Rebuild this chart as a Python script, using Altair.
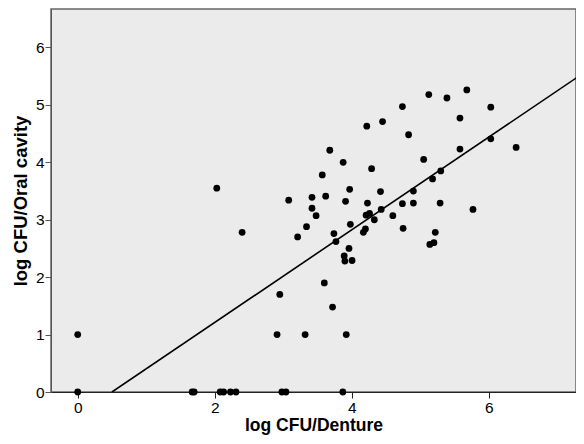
import altair as alt
import pandas as pd

denture = [0, 0, 1.67, 1.70, 2.08, 2.13, 2.23, 2.31, 2.98, 3.04, 3.87,
           2.03, 2.40, 2.91, 2.95, 3.08, 3.21, 3.32, 3.34, 3.42, 3.42, 3.48,
           3.57, 3.62, 3.60, 3.68, 3.72, 3.74, 3.77, 3.875, 3.89, 3.90, 3.91,
           3.92, 3.96, 3.97, 3.98, 4.005, 4.22, 4.17, 4.20, 4.23, 4.21, 4.26,
           4.29, 4.33, 4.42, 4.43, 4.45, 4.60, 4.74, 4.74, 4.75, 4.83, 4.90,
           4.90, 5.05, 5.125, 5.14, 5.20, 5.18, 5.22, 5.29, 5.30, 5.39, 5.58,
           5.58, 5.68, 5.77, 6.03, 6.03, 6.40]
oral = [1.0, 0, 0, 0, 0, 0, 0, 0, 0, 0, 0,
        3.55, 2.78, 1.0, 1.70, 3.34, 2.70, 1.0, 2.88, 3.39, 3.20, 3.07,
        3.78, 3.41, 1.90, 4.21, 1.48, 2.76, 2.62, 4.00, 2.37, 2.28, 3.32,
        1.0, 2.50, 3.53, 2.92, 2.29, 4.63, 2.78, 2.84, 3.29, 3.08, 3.11,
        3.89, 3.00, 3.49, 3.18, 4.71, 3.07, 4.97, 3.28, 2.85, 4.48, 3.50,
        3.29, 4.05, 5.18, 2.57, 2.60, 3.71, 2.78, 3.29, 3.85, 5.12, 4.77,
        4.23, 5.26, 3.18, 4.41, 4.96, 4.26]

fit_x = [0.5, 7.39]
fit_y = [0.0, 5.56]

pts = pd.DataFrame({"x": denture, "y": oral})
fit = pd.DataFrame({"x": fit_x, "y": fit_y})

xs = alt.Scale(domain=[-0.39, 7.274], nice=False, zero=False)
ys = alt.Scale(domain=[0, 6.67], nice=False, zero=False)

FONT = "Liberation Sans"
xaxis = alt.Axis(title="log CFU/Denture", values=[0, 2, 4, 6], format="d", grid=False,
                 labelFontSize=15.5, titleFontSize=17.5, titleFontWeight="bold",
                 labelColor="#000", titleColor="#000", domainColor="#222",
                 tickColor="#222", tickSize=6, labelPadding=2, titlePadding=1,
                 labelFont=FONT, titleFont=FONT)
yaxis = alt.Axis(title="log CFU/Oral cavity", values=[0, 1, 2, 3, 4, 5, 6], format="d",
                 grid=False, labelFontSize=15.5, titleFontSize=18.5, titleFontWeight="bold",
                 labelColor="#000", titleColor="#000", domainColor="#555",
                 tickColor="#555", tickSize=6, labelPadding=1, titlePadding=5,
                 labelFont=FONT, titleFont=FONT)

points = alt.Chart(pts).mark_circle(color="black", opacity=1, size=46).encode(
    x=alt.X("x:Q", scale=xs, axis=xaxis),
    y=alt.Y("y:Q", scale=ys, axis=yaxis),
)
line = alt.Chart(fit).mark_line(color="black", strokeWidth=1.6, clip=True).encode(
    x=alt.X("x:Q", scale=xs),
    y=alt.Y("y:Q", scale=ys),
)

chart = alt.layer(points, line).properties(
    width=525, height=383,
    autosize=alt.AutoSizeParams(type="none"),
    padding={"left": 43, "top": 1, "right": 0, "bottom": 44},
).configure_view(fill="#EBEBEB", stroke="#666", strokeWidth=1.5)

chart.save("out.html", embed_options={"renderer": "svg", "actions": False})
